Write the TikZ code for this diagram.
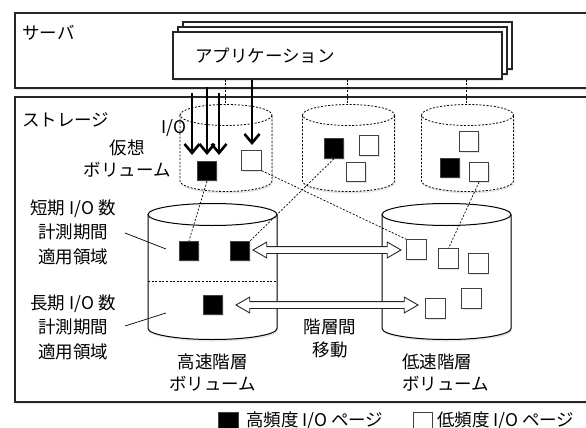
\documentclass[tikz,border=0pt]{standalone}
\usepackage{fontspec}
\setmainfont{Noto Sans CJK JP}
\usetikzlibrary{shapes.arrows,shadows,arrows.meta,calc}
\newcommand\mycyl[6]{%
  \path[fill=white,drop shadow={shadow xshift=1pt,shadow yshift=-2pt,opacity=0.18}]
    ({#1-#4},#2) -- ({#1-#4},#3) arc[start angle=180,end angle=0,x radius=#4,y radius=#5]
    -- ({#1+#4},#2) arc[start angle=0,end angle=-180,x radius=#4,y radius=#5] -- cycle;
  \draw[#6] ({#1-#4},#2) -- ({#1-#4},#3) arc[start angle=180,end angle=0,x radius=#4,y radius=#5] -- ({#1+#4},#2);
  \draw[#6] (#1,#2) ellipse[x radius=#4,y radius=#5];
}
\begin{document}
\begin{tikzpicture}[x=1pt,y=-1pt,
  every node/.style={font=\fontsize{17.5}{23}\selectfont,inner sep=0pt},
  box/.style={draw=black!85,line width=1.1pt,fill=white,
    drop shadow={shadow xshift=1pt,shadow yshift=-2pt,opacity=0.2}},
  sq/.style={draw=black!75,line width=0.9pt,minimum size=19.5pt,inner sep=0pt,
    drop shadow={shadow xshift=1pt,shadow yshift=-1.5pt,opacity=0.2}},
  hi/.style={sq,fill=black},
  lo/.style={sq,fill=white},
  vcyl/.style={line width=0.8pt,dash pattern=on 2pt off 1.6pt},
  pcyl/.style={line width=1pt},
  lk/.style={line width=0.7pt,dash pattern=on 2pt off 1.6pt},
  ioarrow/.style={line width=2.6pt,-{Straight Barb[length=9pt,width=15pt]}},
  migr/.style={double arrow,draw=black!85,fill=white,line width=0.9pt,minimum width=15pt,
    double arrow head extend=4.5pt,double arrow tip angle=60,inner sep=3pt},
  ptr/.style={line width=0.7pt}
]
\clip (0,0) rectangle (586,428);
\fill[white] (0,0) rectangle (586,428);

% server
\draw[box] (15,13) rectangle (620,88);
\node[anchor=west] (srv) at (22,33) {サーバ};
\draw[box] (183,22) rectangle (512,69);
\draw[box] (178,27) rectangle (507,74);
\node[box,minimum width=329pt,minimum height=47pt,text width=285pt,align=left] (app) at (337.5,55.5) {アプリケーション};

% storage
\draw[box] (15,97) rectangle (620,402);
\node[anchor=west] (stg) at (22,120) {ストレージ};

% virtual volumes
\coordinate (v1t) at (225,104.5);
\coordinate (v2t) at (347.5,104.5);
\coordinate (v3t) at (466.5,104.5);
\mycyl{226}{115}{181}{46}{10.5}{vcyl}
\mycyl{348.5}{115}{181}{46}{10.5}{vcyl}
\mycyl{467.5}{115}{181}{46}{10.5}{vcyl}
\draw[lk] (app.south -| v1t) -- (v1t);
\draw[lk] (app.south -| v2t) -- (v2t);
\draw[lk] (app.south -| v3t) -- (v3t);

% physical volumes
\mycyl{212.5}{214.5}{328.5}{64.5}{11}{pcyl}
\mycyl{446.5}{214.5}{328.5}{64.5}{11}{pcyl}
\draw[lk] (148,281) -- (277,281);

% pages
\node[hi] (vb1) at (207,171) {};
\node[lo] (vw1) at (251.5,160.5) {};
\node[hi] (vb2) at (334,148.5) {};
\node[lo] (vw2) at (369,145.5) {};
\node[lo] (vw3) at (356,172) {};
\node[lo] (vw4) at (469,141.5) {};
\node[hi] (vb3) at (450,168) {};
\node[lo] (vw5) at (479,172) {};
\node[hi] (fb1) at (189,251) {};
\node[hi] (fb2) at (240,251) {};
\node[hi] (fb3) at (213,305) {};
\node[lo] (s1) at (416.5,249.5) {};
\node[lo] (s2) at (448.5,258.5) {};
\node[lo] (s3) at (478.5,263.5) {};
\node[lo] (s4) at (435.5,308.5) {};
\node[lo] (s5) at (471.5,298.5) {};

% mapping links
\draw[lk] (vb1.south) -- (fb1.north);
\draw[lk] (vw1.south east) -- (s1.north west);
\draw[lk] (vb2.south) -- (fb2.north east);
\draw[lk] (vw5.south) -- (s2.north);

% I/O arrows
\coordinate (io1s) at (192,93);  \coordinate (io1e) at (192,155);
\coordinate (io2s) at (207,87);  \coordinate (io2e) at (207,155);
\coordinate (io3s) at (219,93);  \coordinate (io3e) at (219,155);
\coordinate (io4e) at (252,145);
\draw[ioarrow] (io1s) -- (io1e);
\draw[ioarrow] (io2s) -- (io2e);
\draw[ioarrow] (io3s) -- (io3e);
\draw[ioarrow] (app.south -| io4e) -- (io4e);
\node (io) at (174,128) {I/O};
\node[align=center,font=\fontsize{17.5}{22}\selectfont] (vvol) at (127,159) {仮想\\ボリューム};

% migration arrows
\node[migr,minimum height=148pt] (m1) at (327,250) {};
\node[migr,minimum height=182pt] (m2) at (327,305) {};
\node[align=center,font=\fontsize{17.5}{23}\selectfont] (mig) at (330,338.5) {階層間\\移動};

% region labels
\node[align=center,font=\fontsize{17.5}{24.5}\selectfont] (short) at (73,232) {短期 I/O 数\\計測期間\\適用領域};
\node[align=center,font=\fontsize{17.5}{24.5}\selectfont] (long) at (73,327) {長期 I/O 数\\計測期間\\適用領域};
\coordinate (p1a) at (125,233); \coordinate (p1b) at (166,249);
\coordinate (p2a) at (125,326); \coordinate (p2b) at (166,313);
\draw[ptr] (p1a) -- (p1b);
\draw[ptr] (p2a) -- (p2b);

\node[align=center,font=\fontsize{17.5}{22}\selectfont] (fast) at (212.5,373) {高速階層\\ボリューム};
\node[align=left,anchor=west,font=\fontsize{17.5}{22}\selectfont] (slow) at (402,373) {低速階層\\ボリューム};

% legend
\node[hi,minimum size=20pt,anchor=north west] (lg1) at (218,412) {};
\node[anchor=west] (lg1t) at (246,421) {高頻度 I/O ページ};
\node[lo,minimum size=19pt,anchor=north west] (lg2) at (413,412) {};
\node[anchor=west] (lg2t) at (437,421) {低頻度 I/O ページ};
\end{tikzpicture}
\end{document}
